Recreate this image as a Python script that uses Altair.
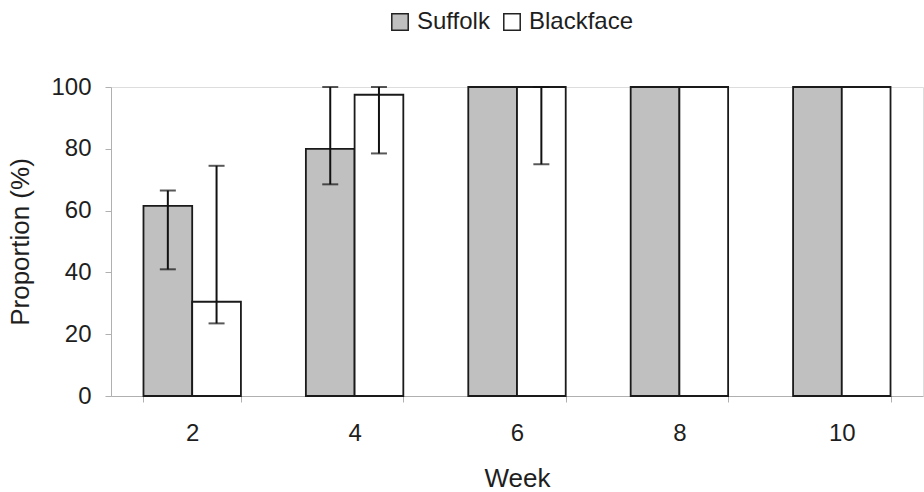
import altair as alt
import pandas as pd

# Weekly proportions (%) per breed, with error-bar ranges
weeks = [2, 4, 6, 8, 10]
breeds = ["Suffolk", "Blackface"]
suffolk = [61.5, 80, 100, 100, 100]
blackface = [30.5, 97.5, 100, 100, 100]

# Error-bar extents (low, high); None where no bar is drawn
suffolk_lo = [41, 68.5, None, None, None]
suffolk_hi = [66.5, 100, None, None, None]
blackface_lo = [23.5, 78.5, 75, None, None]
blackface_hi = [74.5, 100, 100, None, None]

rows = []
for i, w in enumerate(weeks):
    rows.append(dict(Week=str(w), Breed="Suffolk", Value=suffolk[i],
                     lo=suffolk_lo[i], hi=suffolk_hi[i]))
    rows.append(dict(Week=str(w), Breed="Blackface", Value=blackface[i],
                     lo=blackface_lo[i], hi=blackface_hi[i]))
df = pd.DataFrame(rows)
err = df.dropna(subset=["lo"])
caps = pd.concat([
    err[["Week", "Breed"]].assign(cap=err["lo"]),
    err[["Week", "Breed"]].assign(cap=err["hi"]),
])

FONT = "Liberation Sans"
TEXT = "#1e1e1e"
AXIS = "#b0b0b0"
week_order = [str(w) for w in weeks]

x_enc = alt.X(
    "Week:N", sort=week_order,
    scale=alt.Scale(paddingInner=0.4, paddingOuter=0.2),
    axis=alt.Axis(title="Week", labelAngle=0, tickBand="extent",
                  tickSize=6, labelPadding=19, titlePadding=20,
                  domainColor=AXIS, tickColor=AXIS,
                  labelFontSize=24, titleFontSize=26,
                  titleFontWeight="normal", labelColor=TEXT,
                  titleColor=TEXT, labelFont=FONT, titleFont=FONT),
)
x_off = alt.XOffset("Breed:N", sort=breeds)

bars = alt.Chart(df).mark_bar(stroke="#1a1a1a", strokeWidth=1.8).encode(
    x=x_enc,
    xOffset=x_off,
    y=alt.Y("Value:Q", scale=alt.Scale(domain=[0, 100], nice=False),
            axis=alt.Axis(title="Proportion (%)", values=[0, 20, 40, 60, 80, 100],
                          tickSize=6, labelPadding=14, titlePadding=17,
                          domainColor=AXIS, tickColor=AXIS,
                          labelFontSize=24, titleFontSize=26,
                          titleFontWeight="normal", labelColor=TEXT,
                          titleColor=TEXT, labelFont=FONT, titleFont=FONT,
                          grid=False)),
    fill=alt.Fill("Breed:N", sort=breeds,
                  scale=alt.Scale(domain=breeds, range=["#c0c0c0", "#ffffff"]),
                  legend=alt.Legend(title=None, orient="none", direction="horizontal",
                                    legendX=277, legendY=-77,
                                    symbolType="square", symbolSize=270,
                                    symbolStrokeColor="#222", symbolStrokeWidth=1.5,
                                    labelFontSize=24, labelFont=FONT, labelColor=TEXT,
                                    columnPadding=10, labelOffset=5)),
)

rules = alt.Chart(err).mark_rule(color="#111", strokeWidth=2).encode(
    x=alt.X("Week:N", sort=week_order),
    xOffset=x_off,
    y="lo:Q",
    y2="hi:Q",
)

ticks = alt.Chart(caps).mark_tick(color="#111", thickness=2, size=16).encode(
    x=alt.X("Week:N", sort=week_order),
    xOffset=x_off,
    y="cap:Q",
)

chart = (bars + rules + ticks).properties(
    width=812, height=309,
    autosize=alt.AutoSizeParams(type="none"),
    padding={"left": 111, "top": 87, "right": 1, "bottom": 96},
).configure_view(stroke=None).configure(background="white")

chart.save("out.html", embed_options={"renderer": "svg", "actions": False})
